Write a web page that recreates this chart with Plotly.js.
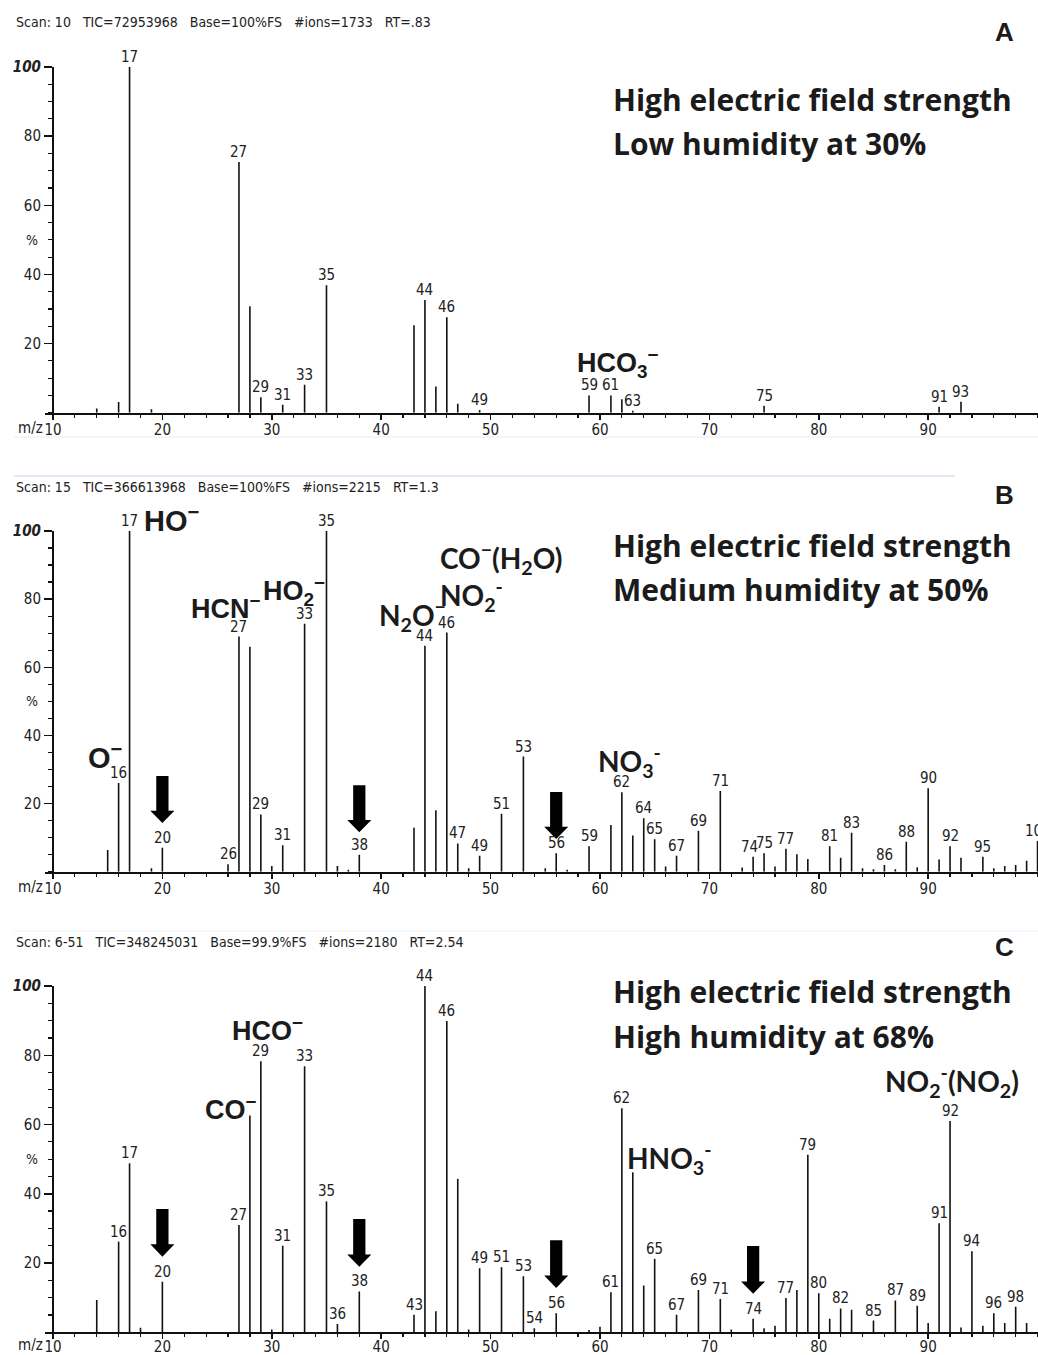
<!DOCTYPE html>
<html><head><meta charset="utf-8">
<script src="https://cdn.plot.ly/plotly-3.0.1.min.js"></script>
<style>html,body{margin:0;padding:0;background:#fff}#chart{width:1038px;height:1355px}</style>
</head><body><div id="chart"></div>
<script>
// ---------- DATA ----------
// Panel A : 30 % humidity
const mzA  = [14,16,17,19,27,28,29,31,33,35,43,44,45,46,47,49,59,61,62,63,75,91,93];
const intA = [1.2,3.1,100,1.0,72.5,30.8,4.5,2.3,8.1,36.9,25.3,32.6,7.6,27.6,2.6,0.8,5.0,5.0,3.9,0.6,2.0,1.7,3.2];
const labelsA = [17,27,29,31,33,35,44,46,49,59,61,63,75,91,93];

// Panel B : 50 % humidity
const mzB  = [15,16,17,19,20,26,27,28,29,30,31,33,35,36,37,38,43,44,45,46,47,48,49,51,53,55,56,57,59,61,62,63,64,65,66,67,69,71,73,74,75,76,77,78,79,81,82,83,84,85,86,87,88,89,90,91,92,93,95,96,97,98,99,100];
const intB = [6.4,26,100,1.0,7.0,2.2,69,66,16.8,1.7,7.8,72.8,100,1.7,0.6,5.0,12.9,66.3,18,70.2,8.3,1.0,4.7,17,33.8,1.0,5.4,0.6,7.5,13.7,23.3,10.6,15.7,9.5,1.5,4.7,12,23.7,1.2,4.4,5.4,1.5,6.7,5.1,3.7,7.5,4.1,11.4,1.0,0.7,2.0,0.7,8.8,1.3,24.5,3.6,7.5,4.1,4.4,1.0,1.7,2.0,3.2,9.0];
const labelsB = [16,17,20,26,27,29,31,33,35,38,44,46,47,49,51,53,56,59,62,64,65,67,69,71,74,75,77,81,83,86,88,90,92,95,100];
const arrowMzB  = [20,38,56];
const arrowTipB = [14.3,11.6,9.6];

// Panel C : 68 % humidity
const mzC  = [14,16,17,18,20,27,28,29,30,31,33,35,36,38,43,44,45,46,47,48,49,51,53,54,56,59,60,61,62,63,64,65,67,69,71,72,74,75,76,77,78,79,80,81,82,83,85,87,89,90,91,92,93,94,95,96,97,98,99];
const intC = [9.3,26.2,48.8,1.3,14.6,31,62.6,78.3,0.8,25,76.8,37.8,2.4,11.8,5.1,100,6.1,89.9,44.3,0.8,18.5,18.8,16.2,1.2,5.5,0.7,1.6,11.6,64.7,46.2,13.5,21.2,5.1,12.2,9.6,0.8,3.9,1.2,1.9,9.9,12.2,51.3,11.3,3.9,6.9,6.5,3.4,9.2,7.7,2.7,31.5,61,1.4,23.4,1.9,5.5,2.7,7.4,2.7];
const labelsC = [16,17,20,27,29,31,33,35,36,38,43,44,46,49,51,53,54,56,61,62,65,67,69,71,74,77,79,80,82,85,87,89,91,92,94,96,98];
const arrowMzC  = [20,38,56,74];
const arrowTipC = [21.8,18.9,12.8,11.1];

const headers = [
  "Scan: 10\u00a0\u00a0\u00a0TIC=72953968\u00a0\u00a0\u00a0Base=100%FS\u00a0\u00a0\u00a0#ions=1733\u00a0\u00a0\u00a0RT=.83",
  "Scan: 15\u00a0\u00a0\u00a0TIC=366613968\u00a0\u00a0\u00a0Base=100%FS\u00a0\u00a0\u00a0#ions=2215\u00a0\u00a0\u00a0RT=1.3",
  "Scan: 6-51\u00a0\u00a0\u00a0TIC=348245031\u00a0\u00a0\u00a0Base=99.9%FS\u00a0\u00a0\u00a0#ions=2180\u00a0\u00a0\u00a0RT=2.54"
];
const panelLetters = ["A","B","C"];
const titleLine1 = "High electric field strength";
const titleLine2 = ["Low humidity at 30%","Medium humidity at 50%","High humidity at 68%"];
const xTickVals = [10,20,30,40,50,60,70,80,90];
const yTickVals = [20,40,60,80,100];
const yTickText = ["20","40","60","80","<b><i>100</i></b>"];

// ---------- LAYOUT HELPERS ----------
const W = 1038, H = 1355, L = 45, R = 0;
const px = x => (x - L) / (W - L - R);
const py = y => (H - y) / H;
const NARROW = "Liberation Sans Narrow, DejaVu Sans Condensed, Arial Narrow, sans-serif";
const ARIAL = "Liberation Sans, Arial, sans-serif";
const CALIB = "Lato, Open Sans, sans-serif";
const TITLE = "Open Sans, Lato, sans-serif";
const INK = "#1b1b1b";

const panels = [
  {mz: mzA, it: intA, lab: labelsA, xa: "x",  ya: "y",  base: 412.7, top: 67,  hdrY: 22,  letY: 32,  t1: 99,  t2: 143, so: -3},
  {mz: mzB, it: intB, lab: labelsB, xa: "x2", ya: "y2", base: 871.7, top: 531, hdrY: 487, letY: 495, t1: 545, t2: 589, so: -3},
  {mz: mzC, it: intC, lab: labelsC, xa: "x3", ya: "y3", base: 1332.3,top: 986, hdrY: 942, letY: 947, t1: 991, t2: 1036, so: -5}
];

const traces = [];
const annotations = [];
const shapes = [];
const layout = {
  width: W, height: H,
  margin: {l: L, r: R, t: 0, b: 0, pad: 0},
  paper_bgcolor: "#ffffff", plot_bgcolor: "rgba(0,0,0,0)",
  showlegend: false,
  annotations, shapes
};

panels.forEach((p, k) => {
  const xs = [], ys = [];
  p.mz.forEach((m, i) => { xs.push(m, m, null); ys.push(0, p.it[i], null); });
  traces.push({type: "scatter", mode: "lines", x: xs, y: ys, xaxis: p.xa, yaxis: p.ya,
    line: {color: "#111", width: 1.6}, hoverinfo: "skip", showlegend: false});

  const xKey = k === 0 ? "xaxis" : "xaxis" + (k + 1);
  const yKey = k === 0 ? "yaxis" : "yaxis" + (k + 1);
  layout[xKey] = {
    domain: [0, 1], range: [9.27, 100.04], anchor: p.ya,
    showline: true, linewidth: 2, linecolor: "#111", mirror: false,
    showgrid: false, zeroline: false, fixedrange: true,
    ticks: "outside", ticklen: 5, tickwidth: 1.5, tickcolor: "#111",
    tickmode: "array", tickvals: xTickVals, ticklabelstandoff: p.so,
    tickfont: {family: NARROW, size: 15, color: "#222"},
    minor: {tickmode: "linear", tick0: 0, dtick: 2, ticks: "outside", ticklen: 3, tickwidth: 1.2, tickcolor: "#111", showgrid: false}
  };
  layout[yKey] = {
    domain: [py(p.base), py(p.top)], range: [0, 100], anchor: "free", position: px(53),
    showline: true, linewidth: 2, linecolor: "#111",
    showgrid: false, zeroline: false, fixedrange: true,
    ticks: "outside", ticklen: 8, tickwidth: 1.5, tickcolor: "#111",
    tickmode: "array", tickvals: yTickVals, ticktext: yTickText,
    tickfont: {family: NARROW, size: 15, color: "#222"},
    minor: {tickmode: "linear", tick0: 0, dtick: 5, ticks: "outside", ticklen: 4, tickwidth: 1.2, tickcolor: "#111", showgrid: false}
  };

  // peak labels
  p.lab.forEach(m => {
    const v = p.it[p.mz.indexOf(m)];
    let xs = 0;
    if (k === 1 && m === 74) xs = -4;
    annotations.push({x: m, y: v, xref: p.xa, yref: p.ya, text: String(m), showarrow: false,
      yanchor: "bottom", xanchor: "center", xshift: xs, yshift: 0, borderpad: 0,
      font: {family: NARROW, size: 15, color: "#222"}});
  });

  // header
  annotations.push({x: px(14), y: py(p.hdrY), xref: "paper", yref: "paper", xanchor: "left", yanchor: "middle",
    text: headers[k], showarrow: false, font: {family: NARROW, size: 14, color: "#222"}});
  // panel letter
  annotations.push({x: px(1004), y: py(p.letY), xref: "paper", yref: "paper", xanchor: "center", yanchor: "middle",
    text: "<b>" + panelLetters[k] + "</b>", showarrow: false, font: {family: ARIAL, size: 26, color: INK}});
  // title lines
  annotations.push({x: px(611), y: py(p.t1), xref: "paper", yref: "paper", xanchor: "left", yanchor: "middle",
    text: "<b>" + titleLine1 + "</b>", showarrow: false, font: {family: TITLE, size: 30, color: INK}});
  annotations.push({x: px(611), y: py(p.t2), xref: "paper", yref: "paper", xanchor: "left", yanchor: "middle",
    text: "<b>" + titleLine2[k] + "</b>", showarrow: false, font: {family: TITLE, size: 30, color: INK}});
  // m/z and % labels
  annotations.push({x: px(45), y: py(p.base + 15 + (p.so + 3)), xref: "paper", yref: "paper", xanchor: "right", yanchor: "middle",
    text: "m/z", showarrow: false, font: {family: NARROW, size: 15, color: "#222"}});
  annotations.push({x: px(32), y: py((p.base + p.top) / 2), xref: "paper", yref: "paper", xanchor: "center", yanchor: "middle",
    text: "%", showarrow: false, font: {family: NARROW, size: 14, color: "#222"}});
});

// ion labels (left pixel, centre pixel, text, font family, size)
const ions = [
  [575, 363, "HCO<sub>3</sub><sup>\u2212</sup>", ARIAL, 27],
  [142, 519, "HO<sup>\u2212</sup>", ARIAL, 29],
  [86, 756, "O<sup>\u2212</sup>", ARIAL, 29],
  [189, 607, "HCN<sup>\u2212</sup>", ARIAL, 27],
  [261, 591, "HO<sub>2</sub><sup>\u2212</sup>", ARIAL, 27],
  [377, 616, "N<sub>2</sub>O<sup>\u2212</sup>", CALIB, 28],
  [438, 595, "NO<sub>2</sub><sup>-</sup>", CALIB, 28],
  [438, 558, "CO<sup>\u2212</sup>(H<sub>2</sub>O)", CALIB, 28],
  [596, 762, "NO<sub>3</sub><sup>-</sup>", CALIB, 28],
  [203, 1108, "CO<sup>\u2212</sup>", ARIAL, 27],
  [230, 1029, "HCO<sup>\u2212</sup>", ARIAL, 27],
  [625, 1158, "HNO<sub>3</sub><sup>-</sup>", CALIB, 28],
  [883, 1081, "NO<sub>2</sub><sup>-</sup>(NO<sub>2</sub>)", CALIB, 28]
];
ions.forEach(a => annotations.push({x: px(a[0]), y: py(a[1]), xref: "paper", yref: "paper",
  xanchor: "left", yanchor: "middle", text: "<b>" + a[2] + "</b>", showarrow: false,
  font: {family: a[3], size: a[4], color: INK}}));

// arrows (drawn on the panel axes)
function arrowPath(xc, tip) {
  const sw = 0.56, hw = 1.1, hl = 3.6, tot = 13.8;
  const top = tip + tot, neck = tip + hl;
  return `M${xc - sw},${top} L${xc + sw},${top} L${xc + sw},${neck} L${xc + hw},${neck} L${xc},${tip} L${xc - hw},${neck} L${xc - sw},${neck} Z`;
}
arrowMzB.forEach((m, i) => shapes.push({type: "path", xref: "x2", yref: "y2", path: arrowPath(m, arrowTipB[i]),
  fillcolor: "#000", line: {width: 0}}));
arrowMzC.forEach((m, i) => shapes.push({type: "path", xref: "x3", yref: "y3", path: arrowPath(m, arrowTipC[i]),
  fillcolor: "#000", line: {width: 0}}));

// faint separator rules of the original scan
shapes.push({type: "line", xref: "paper", yref: "paper", x0: px(14), x1: px(1038), y0: py(437), y1: py(437), line: {color: "#e6ebf3", width: 1}});
shapes.push({type: "line", xref: "paper", yref: "paper", x0: px(14), x1: px(955), y0: py(476), y1: py(476), line: {color: "#d4e2f1", width: 1.5}});
shapes.push({type: "line", xref: "paper", yref: "paper", x0: px(14), x1: px(1038), y0: py(931), y1: py(931), line: {color: "#eef1f5", width: 1}});

Plotly.newPlot("chart", traces, layout, {staticPlot: true, displayModeBar: false});
</script>
</body></html>
